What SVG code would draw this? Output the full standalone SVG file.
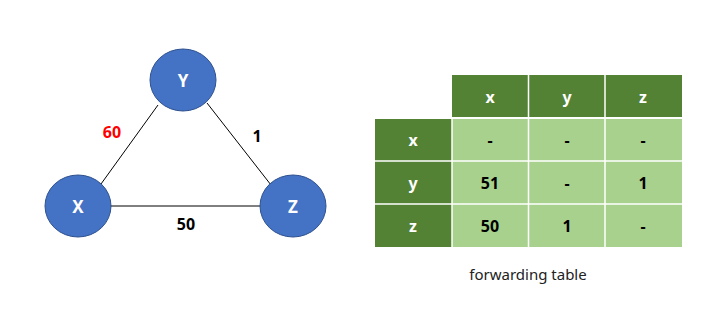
<svg xmlns="http://www.w3.org/2000/svg" width="704" height="323" viewBox="0 0 704 323">
<style>
.node{fill:#4472C4;stroke:#2F528F;stroke-width:1}
.nl{fill:#fff;font-family:"Noto Sans","Open Sans",sans-serif;font-weight:bold;font-size:17px;text-anchor:middle;dominant-baseline:central}
.edge{stroke:#000;stroke-width:1;fill:none}
.el{font-family:"Noto Sans","Open Sans",sans-serif;font-weight:bold;font-size:16px;text-anchor:middle;dominant-baseline:central;fill:#000}
.dk{fill:#548235}
.lt{fill:#A9D18E}
.grid{stroke:#fff;stroke-width:1.5;fill:none}
.ht{fill:#fff;font-family:"Noto Sans","Open Sans",sans-serif;font-weight:bold;font-size:16px;text-anchor:middle;dominant-baseline:central}
.ct{fill:#000;font-family:"Noto Sans","Open Sans",sans-serif;font-weight:bold;font-size:16px;text-anchor:middle;dominant-baseline:central}
.cap{fill:#222;font-family:"Noto Sans","Open Sans",sans-serif;font-size:15px;text-anchor:middle;dominant-baseline:central}
</style>
<rect width="704" height="323" fill="#fff"/>
<g id="connectors">
<line class="edge" x1="158" y1="105" x2="101" y2="184"/>
<line class="edge" x1="207" y1="103" x2="271" y2="185"/>
<line class="edge" x1="110" y1="206" x2="261" y2="206"/>
<text class="el" x="112" y="132" style="fill:#FF0000">60</text>
<text class="el" x="257" y="136">1</text>
<text class="el" x="186" y="224">50</text>
</g>
<g id="node-Y"><ellipse class="node" cx="183" cy="80" rx="33" ry="31"/><text class="nl" x="183" y="80">Y</text></g>
<g id="node-X"><ellipse class="node" cx="78" cy="206" rx="33" ry="31"/><text class="nl" x="78" y="206">X</text></g>
<g id="node-Z"><ellipse class="node" cx="293" cy="206" rx="33" ry="31"/><text class="nl" x="293" y="206">Z</text></g>
<g id="table">
<rect class="dk" x="452" y="75" width="230" height="42"/>
<rect class="dk" x="375" y="119" width="77" height="128"/>
<rect class="lt" x="452" y="119" width="230" height="128"/>
<line class="grid" x1="528.5" y1="75" x2="528.5" y2="247"/>
<line class="grid" x1="605" y1="75" x2="605" y2="247"/>
<line class="grid" x1="452" y1="118" x2="682" y2="118"/>
<line class="grid" x1="375" y1="161" x2="682" y2="161"/>
<line class="grid" x1="375" y1="204" x2="682" y2="204"/>
<line class="grid" x1="452" y1="119" x2="452" y2="247"/>
<text class="ht" x="490" y="97">x</text>
<text class="ht" x="567" y="97">y</text>
<text class="ht" x="643" y="97">z</text>
<text class="ht" x="413" y="140">x</text>
<text class="ht" x="413" y="183">y</text>
<text class="ht" x="413" y="226">z</text>
<text class="ct" x="490" y="140">-</text>
<text class="ct" x="567" y="140">-</text>
<text class="ct" x="643" y="140">-</text>
<text class="ct" x="490" y="183">51</text>
<text class="ct" x="567" y="183">-</text>
<text class="ct" x="643" y="183">1</text>
<text class="ct" x="490" y="226">50</text>
<text class="ct" x="567" y="226">1</text>
<text class="ct" x="643" y="226">-</text>
<text class="cap" x="528" y="274">forwarding table</text>
</g>
</svg>
